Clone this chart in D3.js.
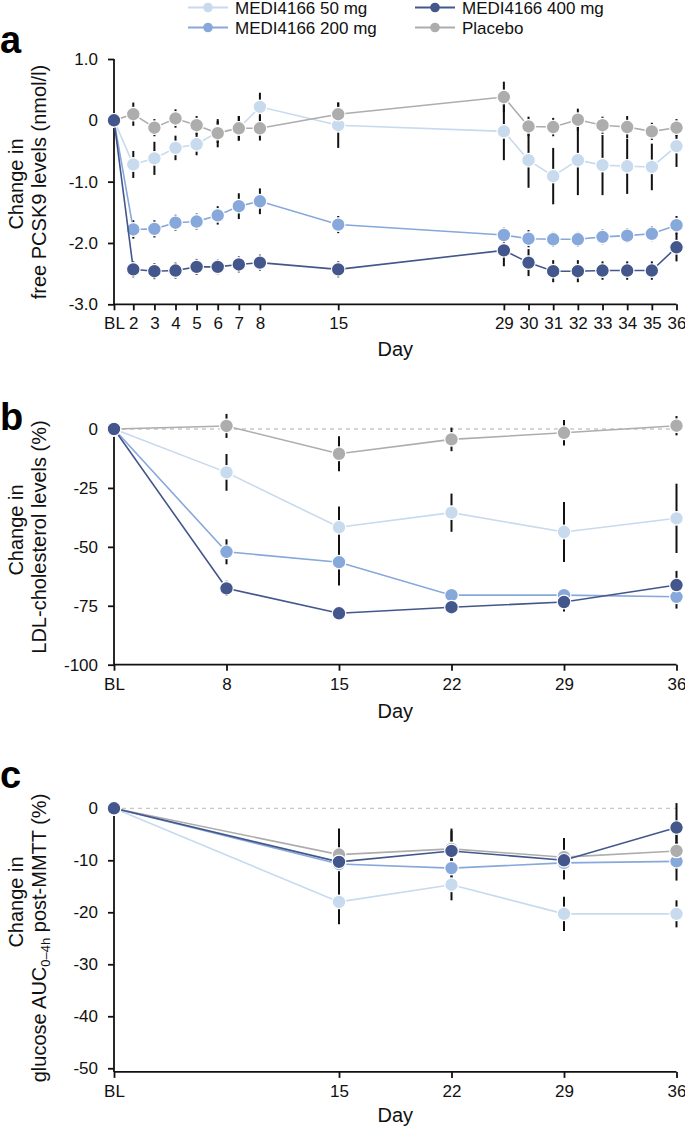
<!DOCTYPE html>
<html><head><meta charset="utf-8">
<script src="https://cdn.jsdelivr.net/npm/d3@7"></script>
<style>
body{margin:0;background:#fff;}
svg{display:block;font-family:"Liberation Sans",Arial,sans-serif;}
</style></head>
<body><svg id="chart" width="685" height="1128"></svg>
<script>
// ---------- DATA ----------
const legendOrder = ["MEDI4166 50 mg","MEDI4166 200 mg","MEDI4166 400 mg","Placebo"];

// Panel a: free PCSK9 (nmol/l); day 1 = BL
const daysA = [1,2,3,4,5,6,7,8,15,29,30,31,32,33,34,35,36];
const dayLabelsA = ["BL","2","3","4","5","6","7","8","15","29","30","31","32","33","34","35","36"];
const a50   = [0,-0.72,-0.62,-0.45,-0.39,-0.19,-0.13,0.22,-0.08,-0.18,-0.65,-0.91,-0.65,-0.73,-0.75,-0.76,-0.42];
const a50e  = [0,0.22,0.27,0.20,0.18,0.18,0.20,0.23,0.37,0.47,0.45,0.46,0.57,0.49,0.45,0.38,0.34];
const a200  = [0,-1.78,-1.77,-1.67,-1.65,-1.55,-1.40,-1.32,-1.70,-1.87,-1.93,-1.94,-1.94,-1.90,-1.88,-1.85,-1.71];
const a200e = [0,0.15,0.14,0.13,0.13,0.15,0.21,0.21,0.14,0.12,0.14,0.12,0.12,0.12,0.12,0.12,0.15];
const a400  = [0,-2.43,-2.46,-2.45,-2.39,-2.39,-2.35,-2.32,-2.43,-2.12,-2.32,-2.46,-2.46,-2.45,-2.45,-2.45,-2.07];
const a400e = [0,0.13,0.13,0.13,0.13,0.12,0.13,0.13,0.13,0.26,0.22,0.18,0.18,0.15,0.15,0.15,0.23];
const aPbo  = [0,0.10,-0.12,0.03,-0.08,-0.21,-0.13,-0.13,0.10,0.38,-0.10,-0.11,0.01,-0.08,-0.11,-0.18,-0.12];
const aPboe = [0,0.19,0.14,0.15,0.15,0.23,0.20,0.20,0.19,0.25,0.16,0.15,0.18,0.14,0.18,0.14,0.14];
const yTicksA = [-3,-2,-1,0,1];

// Panel b: LDL-cholesterol (%)
const daysB = [1,8,15,22,29,36];
const dayLabelsB = ["BL","8","15","22","29","36"];
const b50   = [0,-18.4,-41.7,-35.5,-43.7,-37.9];
const b50e  = [0,7.8,8.8,8.1,12.7,14.7];
const b200  = [0,-52.1,-56.5,-70.5,-70.5,-71.2];
const b200e = [0,5.3,9.9,2,2,5];
const b400  = [0,-67.6,-78.2,-75.6,-73.4,-66.2];
const b400e = [0,3.2,2,2,4,6];
const bPbo  = [0,1.3,-10.5,-4.4,-1.6,1.4];
const bPboe = [0,5.1,7.4,5.0,5.4,4.1];
const yTicksB = [-100,-75,-50,-25,0];

// Panel c: glucose AUC0-4h post-MMTT (%)
const daysC = [1,15,22,29,36];
const dayLabelsC = ["BL","15","22","29","36"];
const c50   = [0,-18.0,-14.7,-20.3,-20.3];
const c50e  = [0,4.3,3.0,3.3,2.6];
const c200  = [0,-10.7,-11.5,-10.5,-10.2];
const c200e = [0,4,3,3,3.7];
const c400  = [0,-10.3,-8.2,-10.0,-3.7];
const c400e = [0,5.5,3.9,3.7,4.7];
const cPbo  = [0,-8.9,-7.8,-9.4,-8.2];
const cPboe = [0,5,3.9,3.7,3.5];
const yTicksC = [-50,-40,-30,-20,-10,0];

// ---------- STYLE ----------
const colors = {"MEDI4166 50 mg":"#c7daee","MEDI4166 200 mg":"#87a8db","MEDI4166 400 mg":"#44578c","Placebo":"#adadad"};
const FONT = '"Liberation Sans",Arial,sans-serif';
const svg = d3.select("#chart");
const X0 = 114, X1 = 676.5;
const fmtMinus = f => d => f(d).replace("\u2212","-");

function panel(cfg){
  const g = svg.append("g");
  const x = cfg.x;
  const y = d3.scaleLinear().domain(cfg.yDomain).range([cfg.bottom, cfg.top]);

  if (cfg.zeroLine){
    g.append("line").attr("x1",X0).attr("x2",X1).attr("y1",y(0)).attr("y2",y(0))
      .attr("stroke","#c8c8c8").attr("stroke-width",1.3).attr("stroke-dasharray","4,4");
  }
  const yAxis = d3.axisLeft(y).tickValues(cfg.yTicks).tickSize(6).tickPadding(10)
     .tickFormat(fmtMinus(cfg.yFormat));
  const ya = g.append("g").attr("transform",`translate(${X0},0)`).call(yAxis);
  const xAxis = d3.axisBottom(x).tickValues(cfg.days).tickSize(6).tickPadding(7)
     .tickFormat((d,i)=>cfg.dayLabels[i]);
  const xa = g.append("g").attr("transform",`translate(0,${cfg.bottom})`).call(xAxis);
  [ya,xa].forEach(a=>{
    a.selectAll("path").attr("stroke","#111").attr("stroke-width",1.8);
    a.selectAll("line").attr("stroke","#111").attr("stroke-width",1.8);
    a.selectAll("text").attr("font-size",17).attr("font-family",FONT).attr("fill","#111");
  });
  ya.select(".domain").attr("d",`M0,${cfg.bottom}V${y(cfg.yDomain[1])}`);
  xa.select(".domain").attr("d",`M${X0},0H${X1}`);

  // error bars
  cfg.series.forEach(s=>{
    g.append("g").selectAll("line").data(s.vals.map((v,i)=>({d:cfg.days[i],v,e:s.errs[i]})).filter(p=>p.e>0))
      .join("line")
      .attr("x1",p=>x(p.d)).attr("x2",p=>x(p.d))
      .attr("y1",p=>y(p.v+p.e)).attr("y2",p=>y(p.v-p.e))
      .attr("stroke","#111").attr("stroke-width",2);
  });
  // lines + markers
  const line = d3.line().x(p=>x(p.d)).y(p=>y(p.v));
  cfg.series.forEach(s=>{
    const pts = s.vals.map((v,i)=>({d:cfg.days[i],v}));
    g.append("path").datum(pts).attr("d",line).attr("fill","none")
      .attr("stroke",colors[s.name]).attr("stroke-width",1.6);
    g.append("g").selectAll("circle").data(pts).join("circle")
      .attr("cx",p=>x(p.d)).attr("cy",p=>y(p.v)).attr("r",6.8)
      .attr("fill",colors[s.name]).attr("stroke","#fff").attr("stroke-width",1.2);
  });

  cfg.yTitle.forEach(t=>{
    const tx = g.append("text").attr("font-size",20).attr("font-family",FONT).attr("fill","#111")
      .attr("text-anchor","middle")
      .attr("transform",`translate(${t.x},${t.cy}) rotate(-90)`);
    t.parts.forEach(p=>{
      const ts = tx.append("tspan").text(p.text);
      if (p.sub) ts.attr("font-size",13).attr("baseline-shift","-28%");
    });
  });
  g.append("text").attr("x",(X0+X1)/2).attr("y",cfg.dayY).attr("text-anchor","middle")
    .attr("font-size",20).attr("font-family",FONT).attr("fill","#111").text("Day");
  g.append("text").attr("x",0).attr("y",cfg.letterY).attr("font-size",38).attr("font-weight","bold")
    .attr("font-family",FONT).attr("fill","#000").text(cfg.letter);
}

// Panel a x-scale: piecewise (segments with different spacing)
const xA = d3.scaleLinear().domain([1,2,8,15,29,36])
  .range([0,0.0343,0.2594,0.3986,0.6931,1].map(f=>X0+f*(X1-X0)));
const xBC = d3.scaleLinear().domain([1,36]).range([X0,X1]);

panel({letter:"a", letterY:53, x:xA, days:daysA, dayLabels:dayLabelsA,
  top:59, bottom:304.3, yDomain:[-3,1], yTicks:yTicksA,
  yFormat:d=>d===0?"0":d3.format(".1f")(d), zeroLine:false, dayY:356,
  yTitle:[{x:23,cy:184,parts:[{text:"Change in"}]},{x:46,cy:182,parts:[{text:"free PCSK9 levels (nmol/l)"}]}],
  series:[{name:"MEDI4166 50 mg",vals:a50,errs:a50e},{name:"MEDI4166 200 mg",vals:a200,errs:a200e},
          {name:"Placebo",vals:aPbo,errs:aPboe},{name:"MEDI4166 400 mg",vals:a400,errs:a400e}]});

panel({letter:"b", letterY:430, x:xBC, days:daysB, dayLabels:dayLabelsB,
  top:429, bottom:664.7, yDomain:[-100,0], yTicks:yTicksB,
  yFormat:d3.format("d"), zeroLine:true, dayY:718,
  yTitle:[{x:23,cy:530,parts:[{text:"Change in"}]},{x:46,cy:537,parts:[{text:"LDL-cholesterol levels (%)"}]}],
  series:[{name:"MEDI4166 50 mg",vals:b50,errs:b50e},{name:"MEDI4166 200 mg",vals:b200,errs:b200e},
          {name:"Placebo",vals:bPbo,errs:bPboe},{name:"MEDI4166 400 mg",vals:b400,errs:b400e}]});

panel({letter:"c", letterY:788, x:xBC, days:daysC, dayLabels:dayLabelsC,
  top:808.3, bottom:1071.9, yDomain:[-50.7,0], yTicks:yTicksC,
  yFormat:d3.format("d"), zeroLine:true, dayY:1122,
  yTitle:[{x:23,cy:902,parts:[{text:"Change in"}]},
          {x:46,cy:938,parts:[{text:"glucose AUC"},{text:"0\u20134h",sub:true},{text:" post-MMTT (%)"}]}],
  series:[{name:"MEDI4166 50 mg",vals:c50,errs:c50e},{name:"MEDI4166 200 mg",vals:c200,errs:c200e},
          {name:"Placebo",vals:cPbo,errs:cPboe},{name:"MEDI4166 400 mg",vals:c400,errs:c400e}]});

// legend
const legPos = [{x:188,y:7.5},{x:188,y:27.5},{x:415,y:7.5},{x:415,y:27.5}];
const lg = svg.append("g");
legendOrder.forEach((n,i)=>{
  const p = legPos[i];
  lg.append("line").attr("x1",p.x).attr("x2",p.x+40).attr("y1",p.y).attr("y2",p.y)
    .attr("stroke",colors[n]).attr("stroke-width",1.8);
  lg.append("circle").attr("cx",p.x+20).attr("cy",p.y).attr("r",4.8).attr("fill",colors[n]);
  lg.append("text").attr("x",p.x+47).attr("y",p.y+6).attr("font-size",17).attr("font-family",FONT)
    .attr("fill","#111").text(n);
});
</script></body></html>
